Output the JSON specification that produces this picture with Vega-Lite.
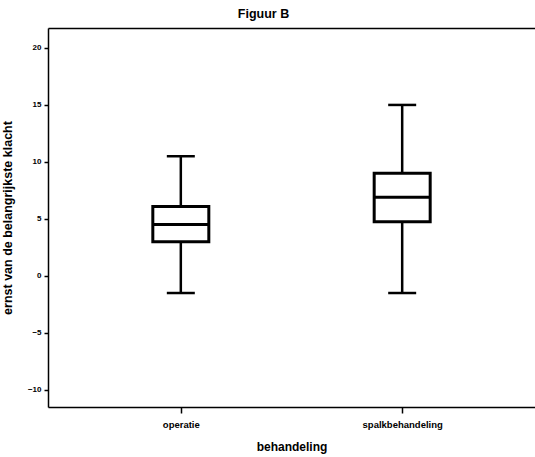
{
  "$schema": "https://vega.github.io/schema/vega-lite/v6.json",
  "autosize": "none",
  "width": 487,
  "height": 379,
  "padding": {"left": 48, "top": 28, "right": 0, "bottom": 50},
  "background": "white",
  "title": {
    "text": "Figuur B",
    "font": "Liberation Sans",
    "fontSize": 12.5,
    "fontWeight": "bold",
    "color": "black",
    "anchor": "middle",
    "dx": -28,
    "offset": 8
  },
  "config": {
    "view": {"stroke": null},
    "font": "Liberation Sans",
    "axis": {
      "domainColor": "black",
      "domainWidth": 1.5,
      "tickColor": "black",
      "tickWidth": 1.5,
      "grid": false,
      "labelColor": "black",
      "titleColor": "black",
      "labelFont": "Liberation Sans",
      "titleFont": "Liberation Sans",
      "labelFontWeight": "bold",
      "titleFontWeight": "bold"
    }
  },
  "data": {
    "values": [
      {"behandeling": "operatie", "lower": -1.5, "q1": 3.0, "median": 4.5, "q3": 6.1, "upper": 10.5},
      {"behandeling": "spalkbehandeling", "lower": -1.5, "q1": 4.75, "median": 6.9, "q3": 9.0, "upper": 15.0}
    ]
  },
  "resolve": {"axis": {"x": "independent"}},
  "layer": [
    {
      "mark": {"type": "rule", "color": "black", "strokeWidth": 2.5},
      "encoding": {
        "x": {
          "field": "behandeling",
          "type": "nominal",
          "scale": {"type": "point", "padding": 0.6},
          "axis": {
            "title": "behandeling",
            "labelAngle": 0,
            "labelFontSize": 9.5,
            "titleFontSize": 12,
            "tickSize": 6,
            "labelPadding": 6,
            "titlePadding": 13
          }
        },
        "y": {
          "field": "lower",
          "type": "quantitative",
          "scale": {"domain": [-11.5, 21.75], "nice": false, "zero": false},
          "axis": {
            "title": "ernst van de belangrijkste klacht",
            "values": [-10, -5, 0, 5, 10, 15, 20],
            "labelFontSize": 8,
            "titleFontSize": 12.5,
            "tickSize": 4,
            "labelPadding": 3,
            "titlePadding": 13
          }
        },
        "y2": {"field": "upper"}
      }
    },
    {
      "mark": {"type": "bar", "fill": "white", "stroke": "black", "strokeWidth": 3, "size": 56},
      "encoding": {
        "x": {
          "field": "behandeling",
          "type": "nominal",
          "axis": {"orient": "top", "title": null, "labels": false, "ticks": false, "domain": true}
        },
        "y": {"field": "q1", "type": "quantitative"},
        "y2": {"field": "q3"}
      }
    },
    {
      "mark": {"type": "tick", "color": "black", "thickness": 3, "size": 56, "opacity": 1},
      "encoding": {
        "x": {"field": "behandeling", "type": "nominal", "axis": null},
        "y": {"field": "median", "type": "quantitative"}
      }
    },
    {
      "mark": {"type": "tick", "color": "black", "thickness": 2.5, "size": 28, "opacity": 1},
      "encoding": {
        "x": {"field": "behandeling", "type": "nominal", "axis": null},
        "y": {"field": "lower", "type": "quantitative"}
      }
    },
    {
      "mark": {"type": "tick", "color": "black", "thickness": 2.5, "size": 28, "opacity": 1},
      "encoding": {
        "x": {"field": "behandeling", "type": "nominal", "axis": null},
        "y": {"field": "upper", "type": "quantitative"}
      }
    }
  ]
}
